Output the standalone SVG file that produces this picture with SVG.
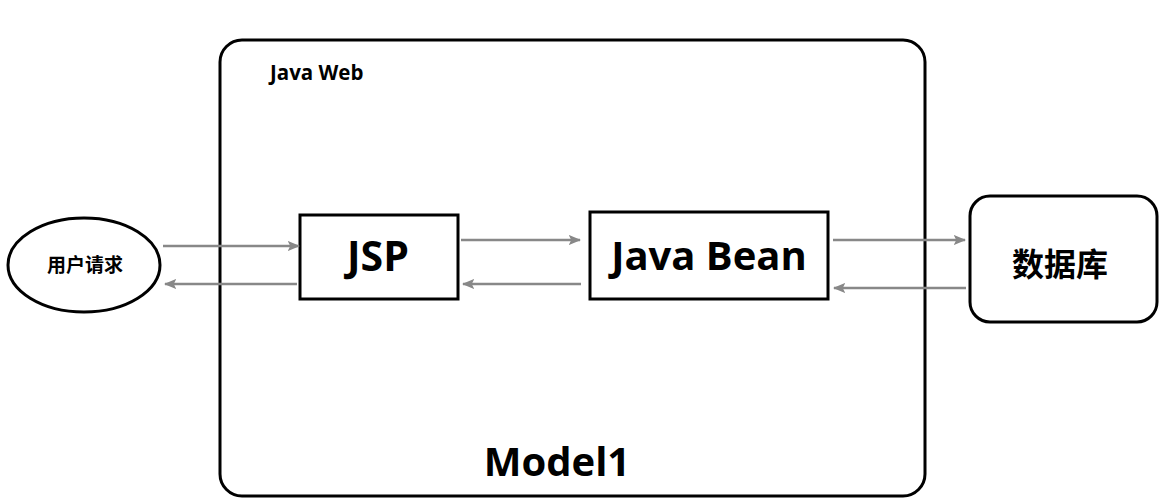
<svg xmlns="http://www.w3.org/2000/svg" width="1164" height="502" viewBox="0 0 1164 502">
<style>
.box{fill:#fff;stroke:#000;stroke-width:3}
.t{font-family:"Open Sans","Noto Sans CJK SC",sans-serif;font-weight:700;fill:#000;text-anchor:middle}
.c{fill:none;stroke:#888;stroke-width:2.5;marker-end:url(#ah)}
</style>
<defs>
<marker id="ah" viewBox="0 0 10 10" refX="9" refY="5" markerWidth="5" markerHeight="5" orient="auto" markerUnits="strokeWidth">
<path d="M0,1 L10,5 L0,9 L2,5 Z" fill="#888"/>
</marker>
</defs>
<rect width="1164" height="502" fill="#fff"/>
<g id="javaweb">
<rect class="box" x="220" y="40" width="705" height="456" rx="22"/>
<text class="t" x="270" y="80" font-size="20.5" style="text-anchor:start">Java Web</text>
<text class="t" x="557" y="476" font-size="40">Model1</text>
</g>
<g id="user">
<ellipse class="box" cx="84" cy="265" rx="76" ry="47"/>
<text class="t" x="85" y="272" font-size="19">用户请求</text>
</g>
<g id="jsp">
<rect class="box" x="300" y="215" width="158" height="84"/>
<text class="t" x="378" y="271" font-size="41">JSP</text>
</g>
<g id="bean">
<rect class="box" x="590" y="212" width="238" height="87"/>
<text class="t" x="709" y="270" font-size="40">Java Bean</text>
</g>
<g id="db">
<rect class="box" x="970" y="196" width="187" height="126" rx="20"/>
<text class="t" x="1060" y="276" font-size="32">数据库</text>
</g>
<g id="connectors">
<path class="c" d="M163,246 H299"/>
<path class="c" d="M297,284 H165"/>
<path class="c" d="M461,240 H580"/>
<path class="c" d="M581,284 H463"/>
<path class="c" d="M833,240 H965"/>
<path class="c" d="M966,288 H834"/>
</g>
</svg>
